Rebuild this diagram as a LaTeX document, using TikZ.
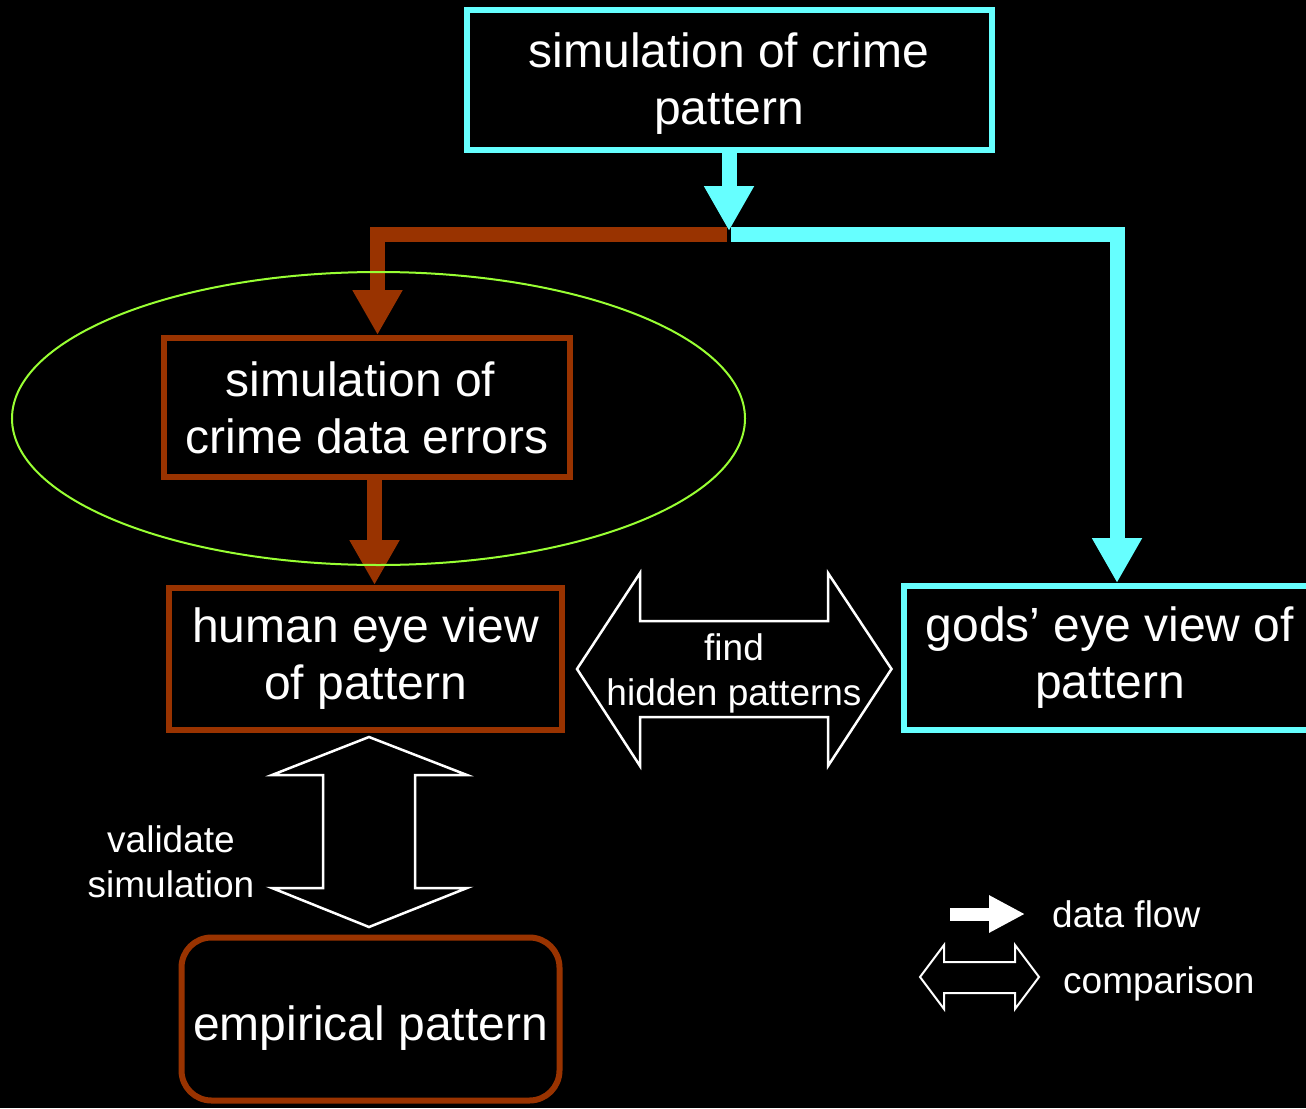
\documentclass[tikz,border=0pt]{standalone}
\usepackage{fontspec}
\setmainfont{Liberation Sans}
\usetikzlibrary{arrows.meta,calc,shapes.geometric}
\definecolor{pbrown}{HTML}{993300}
\definecolor{pcyan}{HTML}{66FFFF}
\definecolor{pgreen}{HTML}{99FF33}
\newcommand\BigTxt{\fontsize{48}{57}\selectfont}
\newcommand\SmallTxt{\fontsize{37}{45}\selectfont}
\begin{document}
\begin{tikzpicture}[x=1pt,y=-1pt,
  box/.style={draw, fill=black, text=white, align=center, inner sep=0pt, font=\BigTxt, line width=6pt},
  brownbox/.style={box, draw=pbrown},
  cyanbox/.style={box, draw=pcyan},
  flow/.style={line width=15pt, line join=miter, -{Triangle[width=47pt,length=45pt]}},
  cmp/.style={draw=white, line width=2.5pt, fill=black, line join=miter},
  lbl/.style={text=white, font=\SmallTxt, align=center, inner sep=0pt},
  grp/.style={ellipse, draw=pgreen, line width=2pt, inner sep=0pt}
]
\fill[black] (0,0) rectangle (1306,1108);
\useasboundingbox (0,0) rectangle (1306,1108);

% boxes
\node[cyanbox, minimum width=525pt, minimum height=140pt] (top) at (729,80) {\rule{0pt}{41pt}simulation of crime\\pattern};
\node[brownbox, minimum width=406pt, minimum height=139pt] (err) at (367,407.5) {simulation of\kern13pt\\crime data errors};
\node[brownbox, minimum width=393pt, minimum height=142pt] (human) at (365.5,659) {human eye view\\of pattern};
\node[cyanbox, minimum width=412pt, minimum height=144pt] (gods) at (1110,658) {gods’ eye view of\\pattern};
\node[brownbox, rounded corners=30pt, minimum width=378pt, minimum height=163pt, text height=42pt, text depth=0pt] (emp) at (370.5,1019) {empirical pattern};

% junction coordinates
\coordinate (jb) at (727,234);
\coordinate (jc) at (731,234);
\coordinate (tipc) at (729,231);

% data flow connectors
\draw[flow, draw=pbrown] (jb) -| ($(err.north)+(10.5,0)$);
\draw[flow, draw=pcyan] (jc) -| ($(gods.north)+(7,0)$);
\draw[flow, draw=pcyan] (top.south) -- (tipc);
\draw[flow, draw=pbrown] ($(err.south)+(7.5,0)$) -- ($(human.north)+(9,0)$);

% grouping ellipse
\node[grp, minimum width=733pt, minimum height=293pt] (group) at (378.5,418.5) {};

% comparison: find hidden patterns
\draw[cmp] (577,669) -- (640,573) -- (640,621) -- (828,621) -- (828,573) -- (891.5,669)
  -- (828,766) -- (828,717) -- (640,717) -- (640,766) -- cycle;
\node[lbl] (find) at (734,673.5) {find\\hidden patterns};

% comparison: validate simulation
\draw[cmp] (369,737) -- (467,775) -- (415,775) -- (415,888) -- (467,888) -- (369,927)
  -- (272,888) -- (323,888) -- (323,775) -- (272,775) -- cycle;
\node[lbl] (valid) at (171,862) {validate\\simulation};

% legend
\coordinate (lf1) at (950,914);
\coordinate (lf2) at (1025,914);
\draw[white, line width=13pt, -{Triangle[width=35pt,length=36pt]}] (lf1) -- (lf2);
\node[lbl, anchor=base west] (ldf) at (1052,927) {data flow};
\draw[cmp, line width=2pt] (920,977) -- (944,945) -- (944,962) -- (1015,962) -- (1015,945) -- (1039,977)
  -- (1015,1009) -- (1015,993) -- (944,993) -- (944,1009) -- cycle;
\node[lbl, anchor=base west] (lcmp) at (1063,993) {comparison};
\end{tikzpicture}
\end{document}
